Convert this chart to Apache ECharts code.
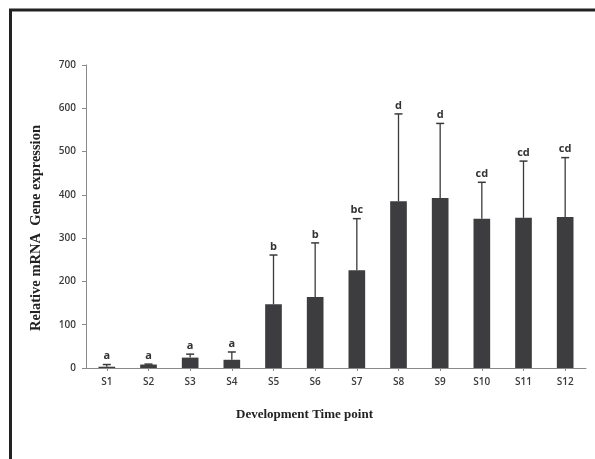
<!DOCTYPE html>
<html><head><meta charset="utf-8">
<script src="https://cdn.jsdelivr.net/npm/echarts@6/dist/echarts.min.js"></script>
<style>html,body{margin:0;padding:0;background:#fff}#c{width:595px;height:459px}</style>
</head><body><div id="c"></div>
<script>
var categories = ['S1','S2','S3','S4','S5','S6','S7','S8','S9','S10','S11','S12'];
var means = [3, 8, 24, 19, 147, 164, 226, 385, 393, 345, 347, 349];
var errTops = [8, 9, 32, 37, 261, 289, 345, 587, 565, 429, 478, 486];
var letters = ['a','a','a','a','b','b','bc','d','d','cd','cd','cd'];
var yTicks = [0, 100, 200, 300, 400, 500, 600, 700];

var errData = categories.map(function(c, i){ return [i, means[i], errTops[i], letters[i]]; });

var chart = echarts.init(document.getElementById('c'));
chart.setOption({
  animation: false,
  grid: {left: 86, right: 9, top: 65, bottom: 91},
  xAxis: {
    type: 'category', data: categories,
    axisLine: {lineStyle: {color: '#8a8a8a', width: 1}},
    axisTick: {show: true, alignWithLabel: true, length: 3, lineStyle: {color: '#8a8a8a'}},
    axisLabel: {color: '#3a3a3a', fontFamily: 'Open Sans', fontWeight: 600, fontSize: 10, margin: 9}
  },
  yAxis: {
    type: 'value', min: yTicks[0], max: yTicks[yTicks.length-1], interval: 100,
    splitLine: {show: false},
    axisLine: {show: true, lineStyle: {color: '#8a8a8a', width: 1}},
    axisTick: {show: true, length: 4, lineStyle: {color: '#8a8a8a'}},
    axisLabel: {color: '#3a3a3a', fontFamily: 'Open Sans', fontWeight: 600, fontSize: 10, margin: 10}
  },
  graphic: [
    {type: 'line', shape: {x1: 9, y1: 10, x2: 595, y2: 10}, style: {stroke: '#222', lineWidth: 3}},
    {type: 'line', shape: {x1: 10.5, y1: 9, x2: 10.5, y2: 459}, style: {stroke: '#222', lineWidth: 3}},
    {type: 'text', x: 36, y: 228, rotation: Math.PI / 2,
      style: {text: 'Relative mRNA  Gene expression', font: 'bold 14.5px "Liberation Serif"', fill: '#222', textAlign: 'center', textVerticalAlign: 'middle'}},
    {type: 'text', left: 236, top: 408, style: {text: 'Development Time point', font: 'bold 13px "Liberation Serif"', fill: '#222'}}
  ],
  series: [
    {type: 'bar', data: means, barWidth: '40%', itemStyle: {color: '#3d3d3f'}},
    {type: 'custom', data: errData, z: 5,
      renderItem: function(params, api){
        var x = api.value(0);
        var p0 = api.coord([x, api.value(1)]);
        var p1 = api.coord([x, api.value(2)]);
        var half = 4;
        return {type: 'group', children: [
          {type: 'line', shape: {x1: p0[0], y1: p0[1], x2: p1[0], y2: p1[1]}, style: {stroke: '#3a3a3a', lineWidth: 1.3}},
          {type: 'line', shape: {x1: p1[0]-half, y1: p1[1], x2: p1[0]+half, y2: p1[1]}, style: {stroke: '#3a3a3a', lineWidth: 1.5}},
          {type: 'text', x: p1[0], y: p1[1]-3, style: {text: api.value(3), textAlign: 'center', textVerticalAlign: 'bottom', font: 'bold 11px "Open Sans"', fill: '#333'}}
        ]};
      }
    }
  ]
});
</script></body></html>
